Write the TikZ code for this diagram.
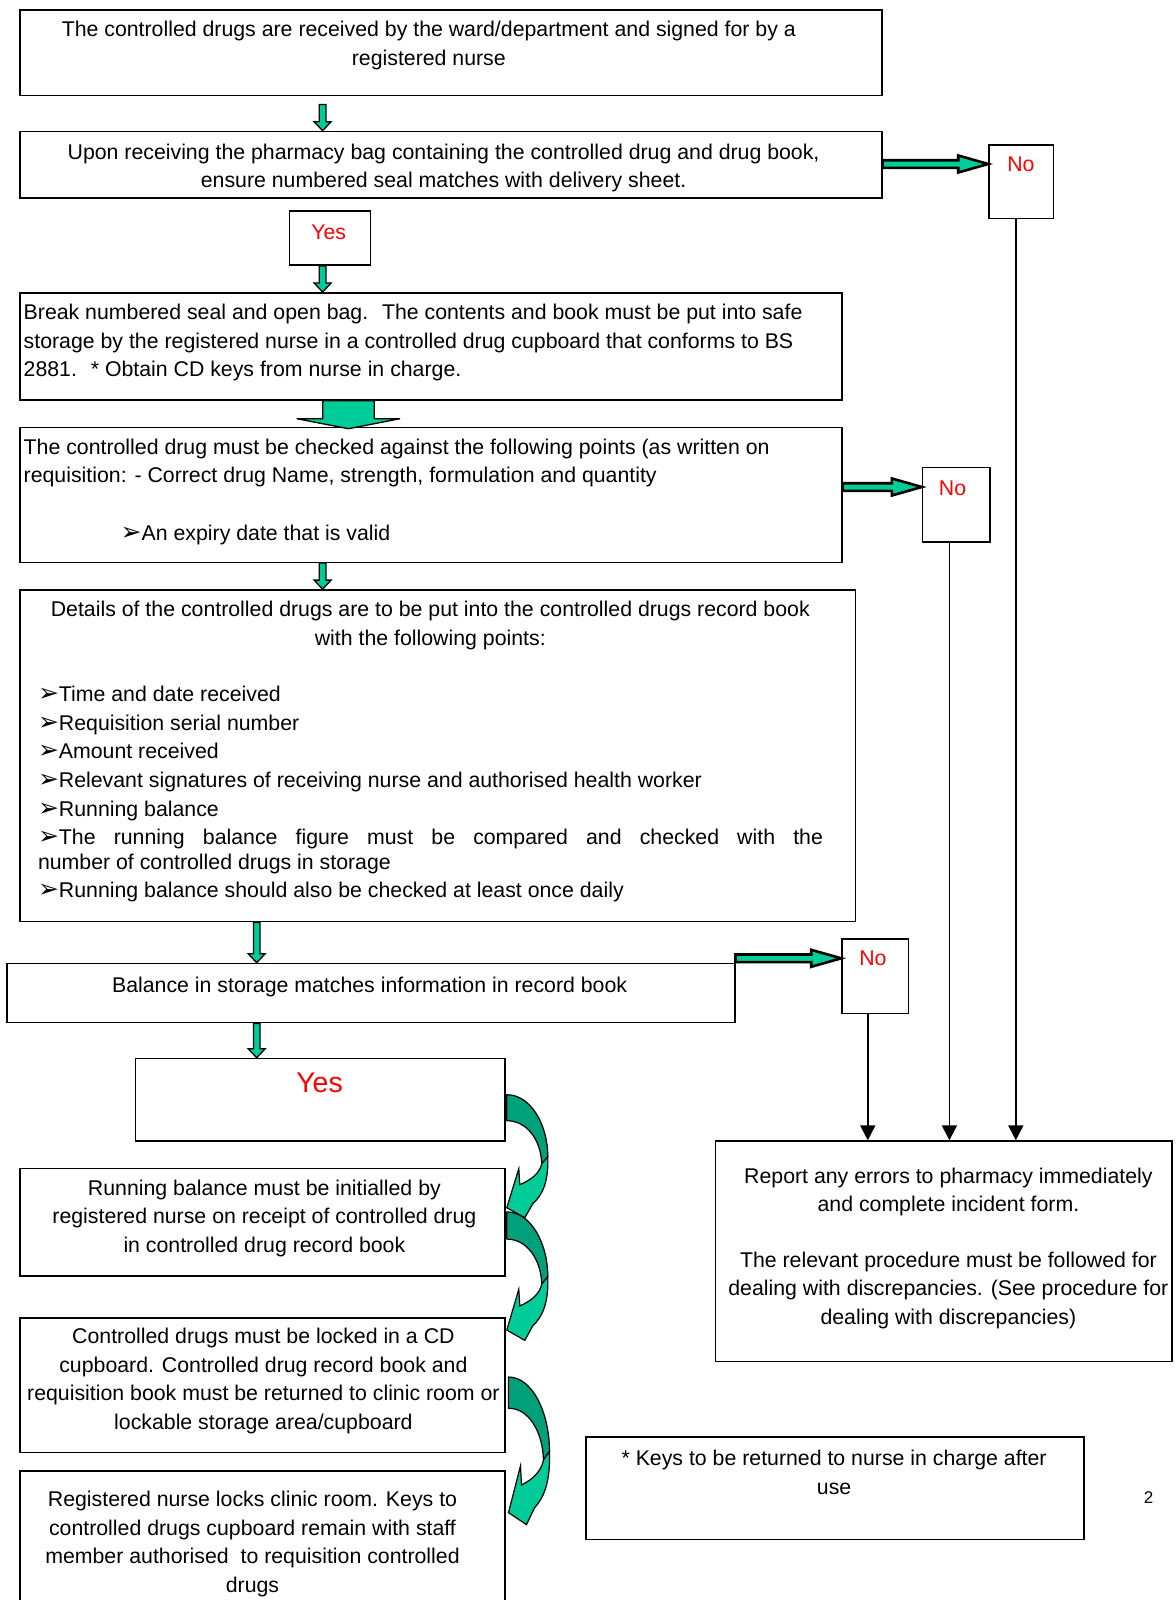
\documentclass[tikz,border=0pt]{standalone}
\usepackage{fontspec}
\setmainfont{Liberation Sans}
\newfontfamily\symf{DejaVu Sans}
\usetikzlibrary{calc,arrows.meta}
\definecolor{lgreen}{RGB}{0,204,153}
\definecolor{dgreen}{RGB}{0,160,122}
\definecolor{nored}{RGB}{255,0,0}
\newcommand\bl{{\symf\fontsize{25}{28}\selectfont ➢}}
\newcommand\fs{\fontsize{21.3}{28.6}\selectfont}
% box: name, x1, y1, x2, y2
\newcommand\bx[5]{\node[box, minimum width={#4pt-#2pt}, minimum height={#5pt-#3pt}] (#1) at (#2,#3) {};}
% vertical block arrow: [top offset] from, to, x
\newcommand\vblk[4][0]{\draw[blk] let \p1=(#2), \p2=(#3) in
  (#4pt-3.3pt,\y1-#1pt) -- (#4pt+3.3pt,\y1-#1pt) -- (#4pt+3.3pt,\y2+9pt) -- (#4pt+8.5pt,\y2+9pt)
  -- (#4pt,\y2) -- (#4pt-8.5pt,\y2+9pt) -- (#4pt-3.3pt,\y2+9pt) -- cycle;}
% horizontal block arrow: from, to, y
\newcommand\hblk[3]{\draw[hblkst] let \p1=(#1), \p2=(#2) in
  (\x1,-#3pt+3.8pt) -- (\x2-30pt,-#3pt+3.8pt) -- (\x2-30pt,-#3pt+8.5pt) -- (\x2,-#3pt)
  -- (\x2-30pt,-#3pt-8.5pt) -- (\x2-30pt,-#3pt-3.8pt) -- (\x1,-#3pt-3.8pt) -- cycle;}
% curved block arrow: origin, yscale
\newcommand\carr[2]{\begin{scope}[shift={#1}, yscale=#2]
  \filldraw[fill=dgreen, line width=1.2pt, line join=round] (0,0) .. controls (24,0) and (41,30) .. (41,62)
    -- (35,69) .. controls (34,45) and (20,26) .. (0,26) -- cycle;
  \filldraw[fill=lgreen, line width=1.2pt, line join=miter] (41,62) .. controls (42,88) and (35,101) .. (26,109)
    -- (18,123) -- (0,113) -- (12,74) -- (13,90) .. controls (25,85) and (33,78) .. (35,69) -- cycle;
\end{scope}}
\begin{document}
\begin{tikzpicture}[x=1pt, y=-1pt,
  box/.style={draw, line width=1.5pt, inner sep=0pt, anchor=north west},
  txt/.style={font=\fs, inner sep=0pt, align=center, anchor=north},
  ltxt/.style={font=\fs, inner sep=0pt, align=left, anchor=north west},
  red/.style={font=\fs, inner sep=0pt, text=nored, anchor=north},
  blk/.style={fill=lgreen, draw, line width=1.3pt, line join=miter},
  hblkst/.style={fill=lgreen, draw, line width=2.6pt, line join=miter},
  conn/.style={draw, line width=1.8pt, -{Triangle[length=15pt,width=15pt]}}]
\useasboundingbox[fill=white] (0,0) rectangle (1175,1600);

% boxes
\bx{b1}{19.4}{9.2}{881}{95}
\bx{b2}{19.4}{130.7}{881}{197}
\bx{noA}{988.2}{144}{1052.5}{217.5}
\bx{yesA}{288.9}{210.3}{369.6}{264.4}
\bx{b3}{19.4}{292}{841.2}{399.2}
\bx{b4}{19.4}{426.7}{841.2}{561.5}
\bx{noB}{921.9}{466.6}{989.3}{541.1}
\bx{b5}{19.4}{589.1}{854.5}{920.9}
\bx{b6}{6.1}{962.7}{734}{1021.9}
\bx{noC}{841.2}{938.2}{907.6}{1012.7}
\bx{yesB}{134.8}{1057.7}{504.3}{1140.3}
\bx{b7}{19.4}{1167.9}{504.3}{1275.1}
\bx{b8}{19.4}{1317}{504.3}{1451.7}
\bx{b9}{19.4}{1470.1}{504.3}{1610}
\bx{rep}{714.6}{1140.3}{1171}{1360.9}
\bx{keys}{585}{1436.4}{1083.2}{1538.5}

% texts
\node[txt] (t1) at (428.8,21) {The controlled drugs are received by the ward/department and signed for by a\\registered nurse};
\node[txt] (t2) at (443.6,143.5) {Upon receiving the pharmacy bag containing the controlled drug and drug book,\\ensure numbered seal matches with delivery sheet.};
\node[red] (tnoA) at (1020.9,157) {No};
\node[red] (tyesA) at (328.7,224.2) {Yes};
\node[ltxt] (t3) at (23.5,303.8) {Break numbered seal and open bag.~ The contents and book must be put into safe\\storage by the registered nurse in a controlled drug cupboard that conforms to BS\\2881.~ * Obtain CD keys from nurse in charge.};
\node[ltxt] (t4) at (23.5,438.6) {The controlled drug must be checked against the following points (as written on\\requisition: - Correct drug Name, strength, formulation and quantity};
\node[ltxt] (t4b) at (120.5,525) {\bl An expiry date that is valid};
\node[red] (tnoB) at (952.5,480.5) {No};
\node[txt] (t5) at (430.3,601) {Details of the controlled drugs are to be put into the controlled drugs record book\\with the following points:};
\node[ltxt] (t5b) at (37.8,686) {\bl Time and date received\\
\bl Requisition serial number\\
\bl Amount received\\
\bl Relevant signatures of receiving nurse and authorised health worker\\
\bl Running balance\\
\makebox[785pt][s]{\bl The running balance figure must be compared and checked with the}\\[-3.6pt]
number of controlled drugs in storage\\[-1pt]
\bl Running balance should also be checked at least once daily};
\node[txt] (t6) at (369.6,976.6) {Balance in storage matches information in record book};
\node[red] (tnoC) at (872.9,951) {No};
\node[red, font=\fontsize{28.5}{32}\selectfont] (tyesB) at (319.5,1072.5) {Yes};
\node[txt] (t7) at (264.4,1179.7) {Running balance must be initialled by\\registered nurse on receipt of controlled drug\\in controlled drug record book};
\node[txt] (t8) at (263.4,1327.8) {Controlled drugs must be locked in a CD\\cupboard. Controlled drug record book and\\requisition book must be returned to clinic room or\\lockable storage area/cupboard};
\node[txt] (t9) at (252.5,1491.1) {Registered nurse locks clinic room. Keys to\\controlled drugs cupboard remain with staff\\member authorised~ to requisition controlled\\drugs};
\node[txt] (trep) at (948.4,1167.5) {Report any errors to pharmacy immediately\\and complete incident form.\\[27pt]The relevant procedure must be followed for\\dealing with discrepancies. (See procedure for\\dealing with discrepancies)};
\node[txt] (tkeys) at (834.1,1450.3) {* Keys to be returned to nurse in charge after\\use};
\node[inner sep=0pt, font=\fontsize{17}{20}\selectfont] (pg) at (1148.5,1497.6) {2};

% straight block arrows
\vblk[8]{b1.south}{b2.north}{322.6}
\vblk{yesA.south}{b3.north}{322.6}
\vblk{b4.south}{b5.north}{322.6}
\vblk{b5.south}{b6.north}{256.7}
\vblk{b6.south}{yesB.north}{256.7}
\draw[blk] let \p1=(b3.south), \p2=(b4.north) in
  (322.7pt,\y1) -- (374.3pt,\y1) -- (374.3pt,\y2+8pt) -- (400pt,\y2+8pt) -- (348.5pt,\y2-2pt)
  -- (296.7pt,\y2+8pt) -- (322.7pt,\y2+8pt) -- cycle;
\hblk{b2.east}{noA.west}{164}
\hblk{b4.east}{noB.west}{487}
\hblk{b6.north east}{noC.west}{958.3}

% thin connectors
\coordinate (xa) at (1015.8,0);
\coordinate (xb) at (949.4,0);
\coordinate (xc) at (867.8,0);
\draw[conn] (noA.south -| xa) -- (rep.north -| xa);
\draw[conn] (noB.south -| xb) -- (rep.north -| xb);
\draw[conn] (noC.south -| xc) -- (rep.north -| xc);

% curved block arrows
\carr{($(yesB.north east)+(1,37)$)}{1}
\carr{($(b7.north east)+(1,44)$)}{1.045}
\carr{($(b8.north east)+(2.7,60)$)}{1.2}
\end{tikzpicture}
\end{document}
